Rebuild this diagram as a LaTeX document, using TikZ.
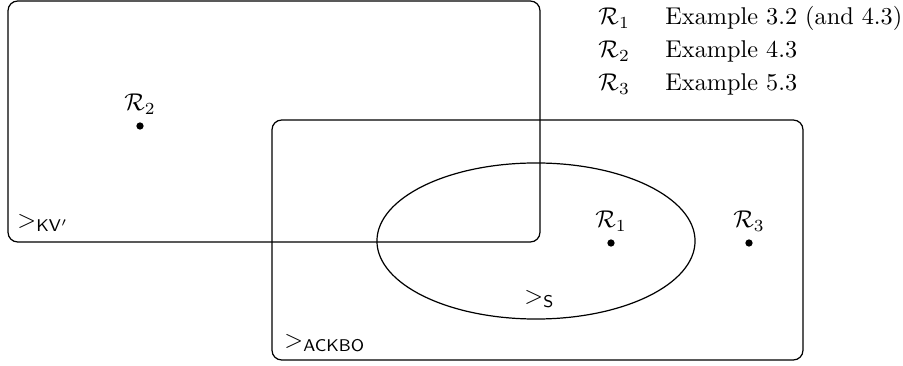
\documentclass[tikz,border=0pt]{standalone}
\usepackage{amsmath}
\usepackage{tikz}
\usetikzlibrary{positioning}

\begin{document}
\begin{tikzpicture}[
  x=0.0145cm, y=-0.0145cm,
  region/.style={draw, line width=0.5pt, rounded corners=4pt},
  dot/.style={circle, fill, inner sep=0pt, minimum size=3pt},
  plbl/.style={above=3pt, inner sep=0pt},
  tag/.style={anchor=west, inner sep=0pt},
  legend/.style={anchor=west, inner sep=0pt}
]
  \useasboundingbox (0,0) rectangle (903,366);

  % the three orderings
  \draw[region] (8,1) rectangle (540,242);
  \draw[region] (272,120) rectangle (803,360);
  \draw[line width=0.5pt] (536,241) ellipse [x radius=2.3055cm, y radius=1.131cm];

  \node[tag] (kv) at (17,223) {$>_{\mathsf{KV'}}$};
  \node[tag] (ackbo) at (284,343) {$>_{\mathsf{ACKBO}}$};
  \node[tag] (s) at (524,299) {$>_{\mathsf{S}}$};

  % the three rewrite systems
  \node[dot] (r2) at (140,126) {};
  \node[plbl] (r2l) at (r2.north) {$\mathcal{R}_2$};
  \node[dot] (r1) at (611,243) {};
  \node[plbl] (r1l) at (r1.north) {$\mathcal{R}_1$};
  \node[dot] (r3) at (749,243) {};
  \node[plbl] (r3l) at (r3.north) {$\mathcal{R}_3$};

  % legend
  \foreach \i/\y/\txt in {1/18/{Example 3.2 (and 4.3)}, 2/51/{Example 4.3}, 3/84/{Example 5.3}} {
    \node[legend] (sys\i) at (598,\y) {$\mathcal{R}_\i$};
    \node[legend] (ex\i) at (665,\y) {\txt};
  }
\end{tikzpicture}
\end{document}
